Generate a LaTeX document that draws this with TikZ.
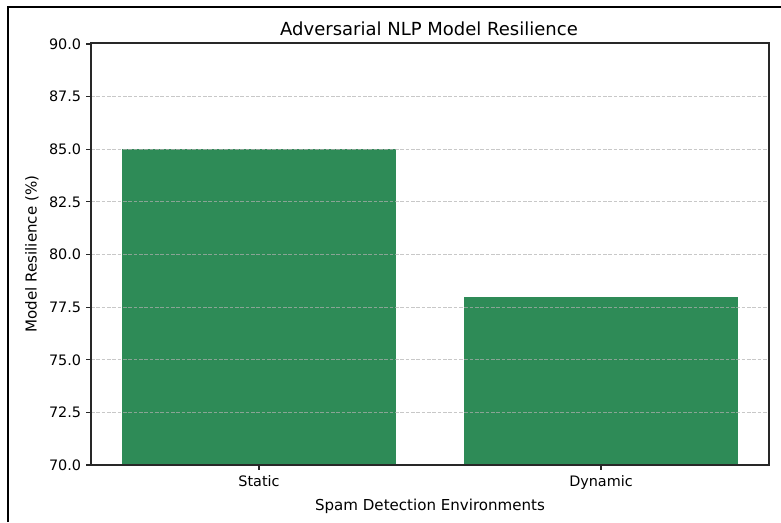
\documentclass[tikz,border=0pt]{standalone}
\usepackage{fontspec}
\setmainfont{DejaVu Sans}
\usetikzlibrary{positioning}
\definecolor{barcolor}{HTML}{2E8B57}
\definecolor{gridcolor}{RGB}{176,176,176}
\definecolor{axiscolor}{RGB}{40,40,40}

\begin{document}
\begin{tikzpicture}[
  x=0.75pt, y=-0.75pt,
  font=\fontsize{10.8}{13}\selectfont,
  bar/.style={fill=barcolor, draw=none},
  gridline/.style={draw=gridcolor, line width=0.6pt, dash pattern=on 2.8pt off 1.2pt, opacity=0.7},
  axisline/.style={draw=axiscolor, line width=0.8pt},
  tickmark/.style={draw=axiscolor, line width=0.8pt},
  ticklabel/.style={inner sep=2pt},
  axlabel/.style={font=\fontsize{11.3}{13}\selectfont}
]
\useasboundingbox (0,0) rectangle (781,522);
% screenshot frame
\draw[line width=1.5pt] (8,522) -- (8,7) -- (781,7);

% axes corners
\coordinate (ll) at (91,465);
\coordinate (ur) at (769,43);

% bars
\fill[bar] (122,465) rectangle (396,149.25);
\fill[bar] (464,465) rectangle (738,296.6);

% grid
\foreach \v in {72.5,75,77.5,80,82.5,85,87.5}
  \draw[gridline] (91,{465-21.05*(\v-70)}) -- (769,{465-21.05*(\v-70)});

% axes box
\draw[axisline] (ll) rectangle (ur);

% y ticks
\foreach \v [count=\i] in {70.0,72.5,75.0,77.5,80.0,82.5,85.0,87.5,90.0} {
  \draw[tickmark] (91,{465-21.05*(\v-70)}) -- (86,{465-21.05*(\v-70)});
  \node[ticklabel, anchor=east] (ytick\i) at (84,{465-21.05*(\v-70)}) {\v};
}

% x ticks
\draw[tickmark] (259,465) -- (259,470);
\draw[tickmark] (601,465) -- (601,470);
\node[ticklabel, anchor=north] (static) at (259,473) {Static};
\node[ticklabel, anchor=north] (dynamic) at (601,473) {Dynamic};

% labels
\node[font=\fontsize{13.5}{16}\selectfont] (title) at (429,29) {Adversarial NLP Model Resilience};
\node[axlabel] (xlabel) at (430,506) {Spam Detection Environments};
\node[axlabel, rotate=90] (ylabel) at (32,254) {Model Resilience (\%)};
\end{tikzpicture}
\end{document}
